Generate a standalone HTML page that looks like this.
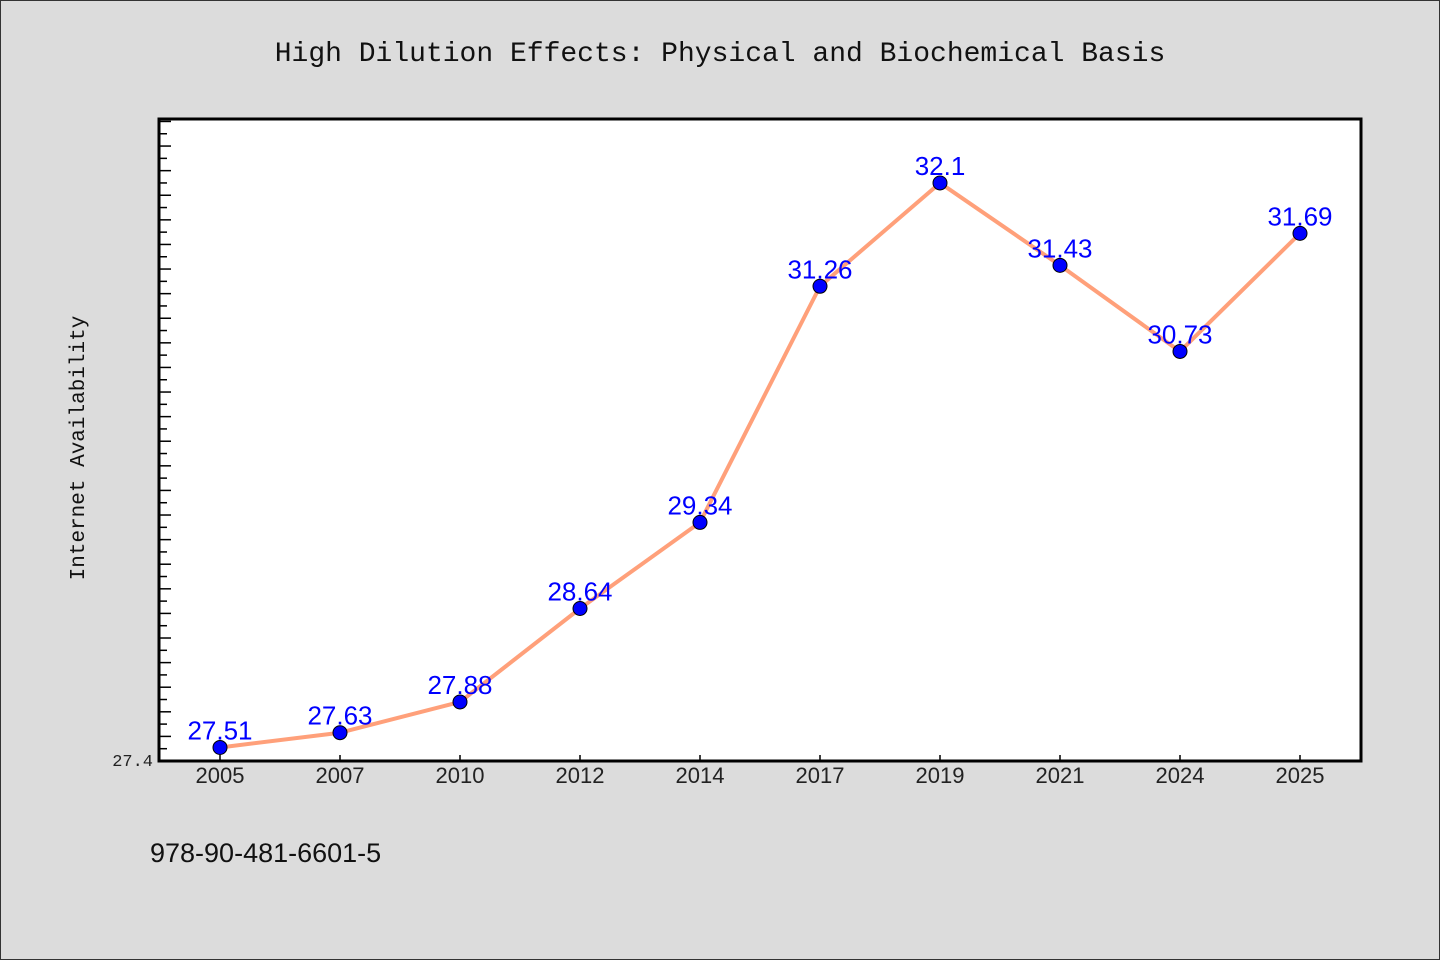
<!DOCTYPE html>
<html><head><meta charset="utf-8"><style>
html,body{margin:0;padding:0;background:#dcdcdc}
svg{display:block}
</style></head><body>
<svg id="chart" width="1440" height="960" xmlns="http://www.w3.org/2000/svg">
<rect x="0.5" y="0.5" width="1439" height="959" fill="#dcdcdc" stroke="#333" stroke-width="1"/>
<text x="720" y="61" text-anchor="middle" font-family="Liberation Mono, monospace" font-size="28" fill="#111">High Dilution Effects: Physical and Biochemical Basis</text>
<rect x="159" y="119" width="1202" height="642" fill="#fff" stroke="#000" stroke-width="3"/>
<text transform="translate(84,448) rotate(-90)" text-anchor="middle" font-family="Liberation Mono, monospace" font-size="21" fill="#111">Internet Availability</text>
<text x="150" y="862" font-family="Liberation Sans, sans-serif" font-size="27" fill="#111">978-90-481-6601-5</text>
<g id="yticks"></g><g id="xticks"></g><g id="series"></g>
</svg>
<script>
const categories=["2005","2007","2010","2012","2014","2017","2019","2021","2024","2025"];
const values=[27.51,27.63,27.88,28.64,29.34,31.26,32.1,31.43,30.73,31.69];
const valueLabels=["27.51","27.63","27.88","28.64","29.34","31.26","32.1","31.43","30.73","31.69"];
const yTickLabels=["27.4"];
const yMin=27.4,yMax=32.62;
const L=159,R=1361,T=119,B=761;
const ns="http://www.w3.org/2000/svg";
function y(v){return B-(v-yMin)/(yMax-yMin)*(B-T);}
function x(i){return 220+i*(1300-220)/(categories.length-1);}
function mk(t,a,p){const e=document.createElementNS(ns,t);for(const k in a)e.setAttribute(k,a[k]);p.appendChild(e);return e;}
const yt=document.getElementById('yticks');
for(let k=1;yMin+k*0.1<yMax;k++){
 const v=yMin+k*0.1;
 const t=mk('line',{x1:L,x2:L+(k%2==0?12:8),y1:y(v),y2:y(v),stroke:'#000','stroke-width':1.5},yt);
 
 
}
yTickLabels.forEach(s=>{
 const t=mk('text',{x:153,y:y(parseFloat(s))+5,'text-anchor':'end','font-family':'Liberation Mono, monospace','font-size':17,fill:'#222'},yt);
 t.textContent=s;
 
 
});
const xt=document.getElementById('xticks');
categories.forEach((c,i)=>{
 const l=mk('line',{x1:x(i),x2:x(i),y1:B-6,y2:B,stroke:'#000','stroke-width':1.5},xt);
 
 
 const t=mk('text',{x:x(i),y:783,'text-anchor':'middle','font-family':'Liberation Sans, sans-serif','font-size':22,fill:'#222'},xt);
 t.textContent=c;
 
 
});
const sg=document.getElementById('series');
const pl=mk('polyline',{points:values.map((v,i)=>x(i)+','+y(v)).join(' '),fill:'none',stroke:'#ffa07a','stroke-width':4,'stroke-linejoin':'round'},sg);


values.forEach((v,i)=>{
 const c=mk('circle',{cx:x(i),cy:y(v),r:7,fill:'#0000ff',stroke:'#000','stroke-width':1},sg);
 
 
 const t=mk('text',{x:x(i),y:y(v)-8,'text-anchor':'middle','font-family':'Liberation Sans, sans-serif','font-size':26,fill:'#0000ff'},sg);
 t.textContent=valueLabels[i];
 
 
});
</script>
</body></html>
